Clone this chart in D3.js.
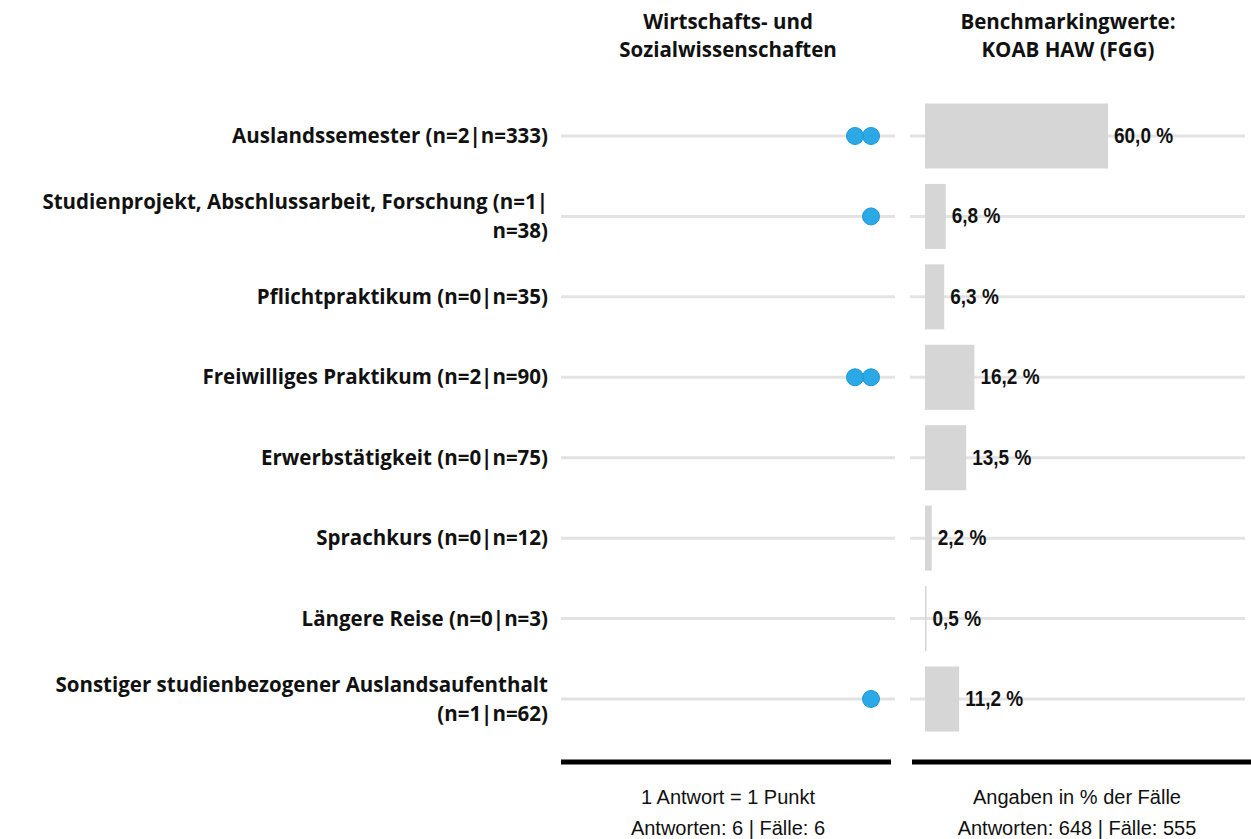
<!DOCTYPE html>
<html>
<head>
<meta charset="utf-8">
<script src="https://cdn.jsdelivr.net/npm/d3@7"></script>
<style>
  body { margin: 0; background: #fff; }
</style>
</head>
<body>
<script>
var svgWidth = 1251;
var svgHeight = 839;

// data
var categories = [
    "Auslandssemester",
    "Studienprojekt, Abschlussarbeit, Forschung",
    "Pflichtpraktikum",
    "Freiwilliges Praktikum",
    "Erwerbstätigkeit",
    "Sprachkurs",
    "Längere Reise",
    "Sonstiger studienbezogener Auslandsaufenthalt"
];
var labelLines = [
    ["Auslandssemester (n=2|n=333)"],
    ["Studienprojekt, Abschlussarbeit, Forschung (n=1|", "n=38)"],
    ["Pflichtpraktikum (n=0|n=35)"],
    ["Freiwilliges Praktikum (n=2|n=90)"],
    ["Erwerbstätigkeit (n=0|n=75)"],
    ["Sprachkurs (n=0|n=12)"],
    ["Längere Reise (n=0|n=3)"],
    ["Sonstiger studienbezogener Auslandsaufenthalt", "(n=1|n=62)"]
];
var dotCounts = [2, 1, 0, 2, 0, 0, 0, 1];
var benchmark = [60.0, 6.8, 6.3, 16.2, 13.5, 2.2, 0.5, 11.2];

var headerLeft = ["Wirtschafts- und", "Sozialwissenschaften"];
var headerRight = ["Benchmarkingwerte:", "KOAB HAW (FGG)"];
var footerLeft = ["1 Antwort = 1 Punkt", "Antworten: 6 | Fälle: 6"];
var footerRight = ["Angaben in % der Fälle", "Antworten: 648 | Fälle: 555"];

var labelFont = "'Open Sans', Lato, sans-serif";
var numFont = "'Liberation Sans', Arial, sans-serif";

var svg = d3.select("body")
    .append("svg")
    .attr("width", svgWidth)
    .attr("height", svgHeight);

var y = d3.scalePoint()
    .domain(categories)
    .range([136, 699]);

var leftPanel = [561, 895];
var rightPanel = [910, 1245];

var xBar = d3.scaleLinear()
    .domain([0, 60])
    .range([925, 1108]);

// dots stack from the right end leftwards
var xDot = d3.scaleLinear()
    .domain([0, 1])
    .range([871, 855]);

var rows = svg.append("g").selectAll("g")
    .data(categories)
    .enter()
    .append("g")
    .attr("transform", d => "translate(0," + y(d) + ")");

// grid lines
rows.append("line")
    .attr("x1", leftPanel[0]).attr("x2", leftPanel[1])
    .attr("stroke", "#e3e3e3").attr("stroke-width", 3);
rows.append("line")
    .attr("x1", rightPanel[0]).attr("x2", rightPanel[1])
    .attr("stroke", "#e3e3e3").attr("stroke-width", 3);

// bars
rows.append("rect")
    .attr("x", xBar(0))
    .attr("y", -32.5)
    .attr("height", 65)
    .attr("width", (d, i) => Math.max(xBar(benchmark[i]) - xBar(0), 1.5))
    .attr("fill", "#d6d6d6");

// value labels (slightly stretched vertically like the original)
rows.append("text")
    .attr("transform", (d, i) =>
        "translate(" + (Math.max(xBar(benchmark[i]), xBar(0) + 1.5) + 6) + ",7) scale(1,1.12)")
    .attr("font-family", numFont)
    .attr("font-weight", "bold")
    .attr("font-size", 19)
    .attr("fill", "#111")
    .text((d, i) => benchmark[i].toFixed(1).replace(".", ",") + " %");

// dots
rows.each(function(d, i) {
    d3.select(this).selectAll("circle")
        .data(d3.range(dotCounts[i]))
        .enter()
        .append("circle")
        .attr("cx", k => xDot(k))
        .attr("cy", 0)
        .attr("r", 8.5)
        .attr("fill", "#2aa9e6")
        .attr("stroke", "#1e98d6")
        .attr("stroke-width", 1);
});

// category labels
rows.each(function(d, i) {
    var lines = labelLines[i];
    var lh = 29;
    var t = d3.select(this).append("text")
        .attr("text-anchor", "end")
        .attr("font-family", labelFont)
        .attr("font-weight", "bold")
        .attr("font-size", 20.5)
        .attr("fill", "#111");
    lines.forEach(function(line, j) {
        t.append("tspan")
            .attr("x", 548)
            .attr("y", (j - (lines.length - 1) / 2) * lh)
            .attr("dy", "0.35em")
            .text(line);
    });
});

// headers / footers
function multiText(lines, cx, y0, lh, font, weight, size) {
    var t = svg.append("text")
        .attr("text-anchor", "middle")
        .attr("font-family", font)
        .attr("font-weight", weight)
        .attr("font-size", size)
        .attr("fill", "#111");
    lines.forEach(function(line, j) {
        t.append("tspan").attr("x", cx).attr("y", y0 + j * lh).text(line);
    });
}
multiText(headerLeft, 728, 29, 28, labelFont, "bold", 20.5);
multiText(headerRight, 1068, 29, 28, labelFont, "bold", 20.5);

// bottom rules
svg.append("line")
    .attr("x1", 561).attr("x2", 891).attr("y1", 762).attr("y2", 762)
    .attr("stroke", "#000").attr("stroke-width", 5);
svg.append("line")
    .attr("x1", 912).attr("x2", 1258).attr("y1", 762).attr("y2", 762)
    .attr("stroke", "#000").attr("stroke-width", 5);

multiText(footerLeft, 728, 804, 31, numFont, "normal", 20);
multiText(footerRight, 1077, 804, 31, numFont, "normal", 20);
</script>
</body>
</html>
